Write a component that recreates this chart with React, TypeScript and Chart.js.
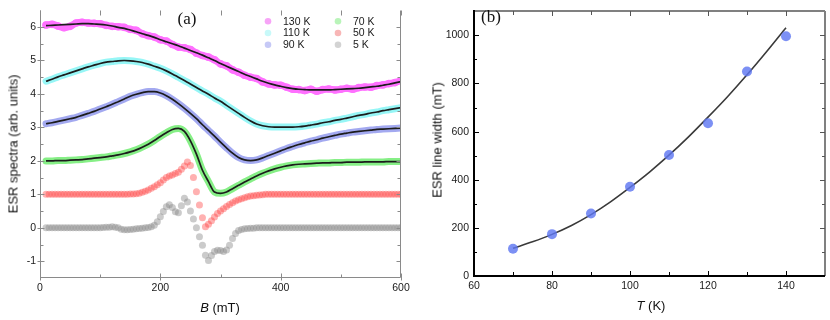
import React, { useEffect, useRef } from 'react';
import { Chart, registerables } from 'chart.js';
Chart.register(...registerables);

// ---------- Panel (a): ESR spectra ----------
const B5 = [
  10, 15, 20, 25, 30, 35, 40, 45, 50, 55,
  60, 65, 70, 75, 80, 85, 90, 95, 100, 105,
  110, 115, 120, 125, 130, 135, 140, 145, 150, 155,
  160, 165, 170, 175, 180, 185, 190, 195, 200, 205,
  210, 215, 220, 225, 230, 235, 240, 245, 250, 255,
  260, 265, 270, 275, 280, 285, 290, 295, 300, 305,
  310, 315, 320, 325, 330, 335, 340, 345, 350, 355,
  360, 365, 370, 375, 380, 385, 390, 395, 400, 405,
  410, 415, 420, 425, 430, 435, 440, 445, 450, 455,
  460, 465, 470, 475, 480, 485, 490, 495, 500, 505,
  510, 515, 520, 525, 530, 535, 540, 545, 550, 555,
  560, 565, 570, 575, 580, 585, 590, 595, 600,
];
const B10 = [
  10, 20, 30, 40, 50, 60, 70, 80, 90, 100,
  110, 120, 130, 140, 150, 160, 170, 180, 190, 200,
  210, 220, 230, 240, 250, 260, 270, 280, 290, 300,
  310, 320, 330, 340, 350, 360, 370, 380, 390, 400,
  410, 420, 430, 440, 450, 460, 470, 480, 490, 500,
  510, 520, 530, 540, 550, 560, 570, 580, 590, 600,
];
const s130 = [
  6.06, 6.08, 6.03, 5.98, 6.02, 6.12, 6.14, 6.12, 6.11, 6.10,
  6.05, 6.02, 6.01, 5.99, 5.93, 5.90, 5.80, 5.74, 5.70, 5.62,
  5.58, 5.48, 5.40, 5.38, 5.33, 5.22, 5.15, 5.10, 5.02, 4.90,
  4.84, 4.72, 4.65, 4.56, 4.50, 4.46, 4.36, 4.30, 4.27, 4.26,
  4.20, 4.14, 4.13, 4.10, 4.14, 4.08, 4.13, 4.15, 4.12, 4.14,
  4.17, 4.14, 4.19, 4.21, 4.20, 4.25, 4.27, 4.31, 4.34, 4.40,
];
const fit130 = [
  6.04, 6.05, 6.06, 6.07, 6.08, 6.09, 6.10, 6.10, 6.09, 6.08,
  6.06, 6.03, 5.99, 5.96, 5.91, 5.86, 5.80, 5.75, 5.69, 5.62,
  5.56, 5.50, 5.44, 5.37, 5.30, 5.23, 5.16, 5.08, 5.00, 4.91,
  4.83, 4.75, 4.67, 4.59, 4.52, 4.45, 4.38, 4.32, 4.27, 4.23,
  4.19, 4.16, 4.14, 4.13, 4.12, 4.12, 4.12, 4.12, 4.13, 4.14,
  4.15, 4.16, 4.17, 4.19, 4.21, 4.23, 4.26, 4.29, 4.33, 4.37,
];
const s110 = [
  4.38, 4.44, 4.51, 4.57, 4.63, 4.69, 4.75, 4.81, 4.86, 4.91,
  4.95, 4.97, 4.99, 5.00, 4.99, 4.97, 4.94, 4.89, 4.83, 4.77,
  4.69, 4.60, 4.50, 4.40, 4.30, 4.19, 4.09, 3.99, 3.88, 3.78,
  3.66, 3.54, 3.42, 3.30, 3.19, 3.10, 3.05, 3.02, 3.01, 3.01,
  3.01, 3.01, 3.02, 3.04, 3.07, 3.10, 3.14, 3.17, 3.21, 3.24,
  3.28, 3.32, 3.36, 3.39, 3.43, 3.46, 3.50, 3.53, 3.56, 3.59,
];
const s90 = [
  3.11, 3.14, 3.18, 3.22, 3.26, 3.30, 3.36, 3.42, 3.48, 3.55,
  3.62, 3.69, 3.77, 3.85, 3.93, 3.99, 4.04, 4.07, 4.07, 4.03,
  3.95, 3.84, 3.71, 3.57, 3.42, 3.26, 3.08, 2.91, 2.74, 2.56,
  2.39, 2.23, 2.10, 2.03, 2.01, 2.03, 2.09, 2.16, 2.23, 2.30,
  2.37, 2.43, 2.49, 2.54, 2.59, 2.63, 2.68, 2.72, 2.76, 2.80,
  2.83, 2.86, 2.88, 2.90, 2.92, 2.94, 2.95, 2.96, 2.97, 2.98,
];
const s70 = [
  2.00, 2.00, 2.01, 2.01, 2.02, 2.03, 2.04, 2.06, 2.08, 2.10,
  2.12, 2.15, 2.18, 2.22, 2.27, 2.33, 2.41, 2.50, 2.61, 2.73,
  2.84, 2.94, 2.97, 2.88, 2.60, 2.20, 1.72, 1.38, 1.07, 1.03,
  1.07, 1.17, 1.27, 1.37, 1.46, 1.55, 1.63, 1.70, 1.76, 1.81,
  1.85, 1.88, 1.90, 1.91, 1.92, 1.93, 1.94, 1.94, 1.95, 1.95,
  1.96, 1.96, 1.96, 1.97, 1.97, 1.97, 1.97, 1.98, 1.98, 1.98,
];
const s50 = [
  1.00, 1.00, 1.00, 1.00, 1.00, 1.00, 1.00, 1.00, 1.00, 1.00,
  1.00, 1.00, 1.00, 1.00, 1.00, 1.00, 1.00, 1.00, 1.00, 1.00,
  1.00, 1.00, 1.00, 1.00, 1.00, 1.00, 1.00, 1.00, 1.01, 1.01,
  1.02, 1.03, 1.06, 1.09, 1.13, 1.18, 1.23, 1.29, 1.35, 1.43,
  1.50, 1.55, 1.58, 1.62, 1.66, 1.75, 1.85, 1.97, 1.86, 1.50,
  1.08, 0.68, 0.30, 0.03, 0.11, 0.21, 0.32, 0.43, 0.50, 0.57,
  0.64, 0.70, 0.75, 0.80, 0.84, 0.87, 0.90, 0.93, 0.95, 0.96,
  0.97, 0.98, 0.99, 1.00, 1.00, 1.00, 1.00, 1.00, 1.00, 1.00,
  1.00, 1.00, 1.00, 1.00, 1.00, 1.00, 1.00, 1.00, 1.00, 1.00,
  1.00, 1.00, 1.00, 1.00, 1.00, 1.00, 1.00, 1.00, 1.00, 1.00,
  1.00, 1.00, 1.00, 1.00, 1.00, 1.00, 1.00, 1.00, 1.00, 1.00,
  1.00, 1.00, 1.00, 1.00, 1.00, 1.00, 1.00, 1.00, 1.00,
];
const s5 = [
  0.00, 0.00, 0.00, 0.00, 0.00, 0.00, 0.00, 0.00, 0.00, 0.00,
  0.00, 0.00, 0.00, 0.00, 0.00, 0.00, 0.00, 0.00, 0.00, 0.01,
  0.02, 0.02, 0.03, 0.02, 0.00, -0.04, -0.06, -0.06, -0.05, -0.04,
  -0.03, -0.02, -0.01, 0.00, 0.01, 0.03, 0.08, 0.18, 0.33, 0.49,
  0.63, 0.69, 0.61, 0.48, 0.45, 0.66, 0.88, 0.77, 0.50, 0.26,
  0.00, -0.27, -0.52, -0.82, -0.98, -0.83, -0.71, -0.67, -0.68, -0.71,
  -0.66, -0.52, -0.32, -0.17, -0.08, -0.05, -0.03, -0.02, -0.01, -0.01,
  0.00, 0.00, 0.00, 0.00, 0.00, 0.00, 0.00, 0.00, 0.00, 0.00,
  0.00, 0.00, 0.00, 0.00, 0.00, 0.00, 0.00, 0.00, 0.00, 0.00,
  0.00, 0.00, 0.00, 0.00, 0.00, 0.00, 0.00, 0.00, 0.00, 0.00,
  0.00, 0.00, 0.00, 0.00, 0.00, 0.00, 0.00, 0.00, 0.00, 0.00,
  0.00, 0.00, 0.00, 0.00, 0.00, 0.00, 0.00, 0.00, 0.00,
];
const legendLabelsA = ['130 K', '110 K', '90 K', '70 K', '50 K', '5 K'];
const xMajorA = [0, 200, 400, 600];
const xMinorA = [100, 300, 500];
const yMajorA = [-1, 0, 1, 2, 3, 4, 5, 6];
const yMinorA = [-0.5, 0.5, 1.5, 2.5, 3.5, 4.5, 5.5];

// ---------- Panel (b): line width vs T ----------
const tempK = [70, 80, 90, 100, 110, 120, 130, 140];
const widthMT = [113, 174, 260, 371, 503, 635, 850, 996];
const fitTempK = [70, 75, 80, 85, 90, 95, 100, 105, 110, 115, 120, 125, 130, 135, 140];
const fitWidthMT = [115, 142, 173, 210, 255, 308, 368, 432, 502, 578, 660, 745, 836, 932, 1032];
const xMajorB = [60, 80, 100, 120, 140];
const xMinorB = [70, 90, 110, 130];
const yMajorB = [0, 200, 400, 600, 800, 1000];
const yMinorB = [100, 300, 500, 700, 900];

const SANS = "'Liberation Sans', Arial, Helvetica, sans-serif";
const SERIF = "'Liberation Serif', 'Times New Roman', serif";

const pts = (xs: number[], ys: number[]) => xs.map((x, i) => ({ x, y: ys[i] }));

const bandColors = ['#ff70ff', '#96f6f6', '#a3a9f0', '#86ef86'];
const ptColors = ['rgba(255,60,60,0.40)', 'rgba(130,130,130,0.42)'];
const legendColors = ['#f7a4f7', '#c8f9f9', '#c6c9f6', '#b9f4b9', '#f8b6b6', '#d3d3d3'];

const tickFont = { family: SANS, size: 10.5 };
const plain = (v: any) => String(v);

function PanelA() {
  const ref = useRef<HTMLCanvasElement | null>(null);
  useEffect(() => {
    if (!ref.current) return;
    const fitLine = (d: number[], xs: number[]) => ({
      data: pts(xs, d),
      borderColor: '#1c1c1c',
      borderWidth: 1.7,
      pointRadius: 0,
      fill: false,
      cubicInterpolationMode: 'monotone' as const,
    });
    const band = (d: number[], c: string, pr: number) => ({
      data: pts(B10, d),
      borderColor: c,
      backgroundColor: c,
      pointBackgroundColor: c,
      borderWidth: 7,
      pointRadius: pr,
      pointBorderWidth: 0,
      borderCapStyle: 'round' as const,
      borderJoinStyle: 'round' as const,
      fill: false,
      cubicInterpolationMode: 'monotone' as const,
    });
    const scatter = (d: number[], c: string) => ({
      data: pts(B5, d),
      showLine: false,
      pointRadius: 3.5,
      pointBorderWidth: 0,
      pointBackgroundColor: c,
      backgroundColor: c,
    });

    const framePlugin = {
      id: 'frameA',
      afterDraw(chart: any) {
        const { ctx, chartArea: a, scales } = chart;
        const xs = scales.x, ys = scales.y;
        const L = Math.round(a.left) + 0.5, R = Math.round(a.right) - 0.5;
        const T = Math.round(a.top) + 0.5, Bt = Math.round(a.bottom) - 0.5;
        ctx.save();
        ctx.strokeStyle = '#8a8a8a';
        ctx.lineWidth = 1;
        ctx.beginPath();
        ctx.moveTo(L, T); ctx.lineTo(L, Bt); ctx.lineTo(R, Bt); ctx.lineTo(R, T);
        const seg = (x1: number, y1: number, x2: number, y2: number) => { ctx.moveTo(x1, y1); ctx.lineTo(x2, y2); };
        xMajorA.forEach(v => { const p = Math.round(xs.getPixelForValue(v)) + 0.5; seg(p, Bt + 3, p, Bt - 4); seg(p, T, p, T + 5); });
        xMinorA.forEach(v => { const p = Math.round(xs.getPixelForValue(v)) + 0.5; seg(p, Bt, p, Bt - 3); seg(p, T, p, T + 5); });
        yMajorA.forEach(v => { const p = Math.round(ys.getPixelForValue(v)) + 0.5; seg(L - 3, p, L + 4, p); seg(R, p, R - 4, p); });
        yMinorA.forEach(v => { const p = Math.round(ys.getPixelForValue(v)) + 0.5; seg(L, p, L + 3, p); seg(R, p, R - 3, p); });
        ctx.stroke();
        // legend
        ctx.font = `10.5px ${SANS}`;
        ctx.textBaseline = 'middle';
        ctx.textAlign = 'left';
        const cols = [268, 338];
        const rows = [21.3, 33, 44.7];
        legendLabelsA.forEach((lab, i) => {
          const cx = cols[Math.floor(i / 3)];
          const cy = rows[i % 3];
          ctx.fillStyle = legendColors[i];
          ctx.beginPath();
          ctx.arc(cx, cy, 3.3, 0, Math.PI * 2);
          ctx.fill();
          ctx.fillStyle = '#1a1a1a';
          ctx.fillText(lab, cx + 15, cy + 0.5);
        });
        // panel label
        ctx.font = `17px ${SERIF}`;
        ctx.textAlign = 'center';
        ctx.fillStyle = '#111';
        ctx.fillText('(a)', 187, 20);
        ctx.restore();
      },
    };

    const chart = new Chart(ref.current, {
      type: 'line',
      data: {
        datasets: [
          fitLine(fit130, B10),
          fitLine(s110, B10),
          fitLine(s90, B10),
          fitLine(s70, B10),
          band(s130, bandColors[0], 3.8),
          band(s110, bandColors[1], 0),
          band(s90, bandColors[2], 0),
          band(s70, bandColors[3], 0),
          scatter(s50, ptColors[0]),
          scatter(s5, ptColors[1]),
        ] as any,
      },
      options: {
        animation: false,
        responsive: false,
        devicePixelRatio: 1,
        events: [],
        layout: { padding: { left: 0, right: 14, top: 8, bottom: 0 } },
        plugins: { legend: { display: false }, tooltip: { enabled: false } },
        scales: {
          x: {
            type: 'linear',
            min: 0,
            max: 600,
            afterBuildTicks: (s: any) => { s.ticks = xMajorA.map(v => ({ value: v })); },
            afterFit: (s: any) => { s.height = 42; },
            ticks: { autoSkip: false, maxRotation: 0, padding: 4, font: tickFont, color: '#1a1a1a', callback: plain },
            grid: { display: false, drawTicks: false },
            border: { display: false },
          },
          y: {
            type: 'linear',
            min: -1.5,
            max: 6.5,
            afterBuildTicks: (s: any) => { s.ticks = yMajorA.map(v => ({ value: v })); },
            afterFit: (s: any) => { s.width = 40; },
            ticks: { autoSkip: false, padding: 4, font: tickFont, color: '#1a1a1a', callback: plain },
            grid: { display: false, drawTicks: false },
            border: { display: false },
          },
        },
      } as any,
      plugins: [framePlugin],
    });
    return () => chart.destroy();
  }, []);
  return <canvas ref={ref} width={415} height={320} style={{ position: 'absolute', left: 0, top: 0 }} />;
}

function PanelB() {
  const ref = useRef<HTMLCanvasElement | null>(null);
  useEffect(() => {
    if (!ref.current) return;
    const framePlugin = {
      id: 'frameB',
      afterDraw(chart: any) {
        const { ctx, chartArea: a, scales } = chart;
        const xs = scales.x, ys = scales.y;
        const L = Math.round(a.left), R = Math.round(a.right);
        const T = Math.round(a.top), Bt = Math.round(a.bottom);
        ctx.save();
        const seg = (x1: number, y1: number, x2: number, y2: number) => { ctx.moveTo(x1, y1); ctx.lineTo(x2, y2); };
        // gray top / right
        ctx.strokeStyle = '#808080';
        ctx.lineWidth = 2;
        ctx.beginPath();
        seg(L, T, R, T); seg(R, T, R, Bt);
        ctx.stroke();
        ctx.lineWidth = 1;
        ctx.strokeStyle = '#555';
        ctx.beginPath();
        xMajorB.forEach(v => { const p = Math.round(xs.getPixelForValue(v)) + 0.5; seg(p, T, p, T + 5); });
        xMinorB.forEach(v => { const p = Math.round(xs.getPixelForValue(v)) + 0.5; seg(p, T, p, T + 4); });
        yMajorB.forEach(v => { const p = Math.round(ys.getPixelForValue(v)) + 0.5; seg(R, p, R - 5, p); });
        yMinorB.forEach(v => { const p = Math.round(ys.getPixelForValue(v)) + 0.5; seg(R, p, R - 3, p); });
        ctx.stroke();
        // black bottom / left
        ctx.strokeStyle = '#000';
        ctx.lineWidth = 2;
        ctx.beginPath();
        seg(L, T - 1, L, Bt); seg(L - 1, Bt, R, Bt);
        ctx.stroke();
        ctx.lineWidth = 1;
        ctx.beginPath();
        xMajorB.forEach(v => { const p = Math.round(xs.getPixelForValue(v)) + 0.5; seg(p, Bt, p, Bt - 5); });
        xMinorB.forEach(v => { const p = Math.round(xs.getPixelForValue(v)) + 0.5; seg(p, Bt, p, Bt - 4); });
        yMajorB.forEach(v => { const p = Math.round(ys.getPixelForValue(v)) + 0.5; seg(L, p, L + 5, p); });
        yMinorB.forEach(v => { const p = Math.round(ys.getPixelForValue(v)) + 0.5; seg(L, p, L + 3, p); });
        ctx.stroke();
        ctx.font = `17px ${SERIF}`;
        ctx.textAlign = 'center';
        ctx.textBaseline = 'middle';
        ctx.fillStyle = '#111';
        ctx.fillText('(b)', 76, 17.5);
        ctx.restore();
      },
    };
    const chart = new Chart(ref.current, {
      type: 'line',
      data: {
        datasets: [
          {
            data: pts(tempK, widthMT),
            showLine: false,
            pointRadius: 5,
            pointBorderWidth: 0,
            pointBackgroundColor: 'rgba(95,120,242,0.82)',
            backgroundColor: 'rgba(95,120,242,0.82)',
          },
          {
            data: pts(fitTempK, fitWidthMT),
            borderColor: '#3a3a3a',
            borderWidth: 1.6,
            pointRadius: 0,
            fill: false,
            cubicInterpolationMode: 'monotone',
          },
        ] as any,
      },
      options: {
        animation: false,
        responsive: false,
        devicePixelRatio: 1,
        events: [],
        layout: { padding: { left: 0, right: 4, top: 6, bottom: 0 } },
        plugins: { legend: { display: false }, tooltip: { enabled: false } },
        scales: {
          x: {
            type: 'linear',
            min: 60,
            max: 150,
            afterBuildTicks: (s: any) => { s.ticks = xMajorB.map(v => ({ value: v })); },
            afterFit: (s: any) => { s.height = 44; },
            ticks: { autoSkip: false, maxRotation: 0, padding: 4, font: tickFont, color: '#1a1a1a', callback: plain },
            grid: { display: false, drawTicks: false },
            border: { display: false },
          },
          y: {
            type: 'linear',
            min: 0,
            max: 1100,
            afterBuildTicks: (s: any) => { s.ticks = yMajorB.map(v => ({ value: v })); },
            afterFit: (s: any) => { s.width = 59; },
            ticks: { autoSkip: false, padding: 5, font: tickFont, color: '#1a1a1a', callback: plain },
            grid: { display: false, drawTicks: false },
            border: { display: false },
          },
        },
      } as any,
      plugins: [framePlugin],
    });
    return () => chart.destroy();
  }, []);
  return <canvas ref={ref} width={415} height={320} style={{ position: 'absolute', left: 415, top: 0 }} />;
}

const titleStyle: React.CSSProperties = {
  position: 'absolute',
  whiteSpace: 'nowrap',
  fontFamily: SANS,
  fontSize: 13,
  color: '#111',
  lineHeight: '15px',
};

export default function App() {
  return (
    <div style={{ position: 'absolute', left: 0, top: 0, width: 830, height: 320, background: '#fff', overflow: 'hidden' }}>
      <PanelA />
      <PanelB />
      <div style={{ ...titleStyle, left: 13, top: 144, transform: 'translate(-50%,-50%) rotate(-90deg)' }}>
        ESR spectra (arb. units)
      </div>
      <div style={{ ...titleStyle, left: 220, top: 306.5, transform: 'translate(-50%,-50%)' }}>
        <i>B</i> (mT)
      </div>
      <div style={{ ...titleStyle, left: 437, top: 140, transform: 'translate(-50%,-50%) rotate(-90deg)' }}>
        ESR line width (mT)
      </div>
      <div style={{ ...titleStyle, left: 651, top: 305, transform: 'translate(-50%,-50%)' }}>
        <i>T</i> (K)
      </div>
    </div>
  );
}
